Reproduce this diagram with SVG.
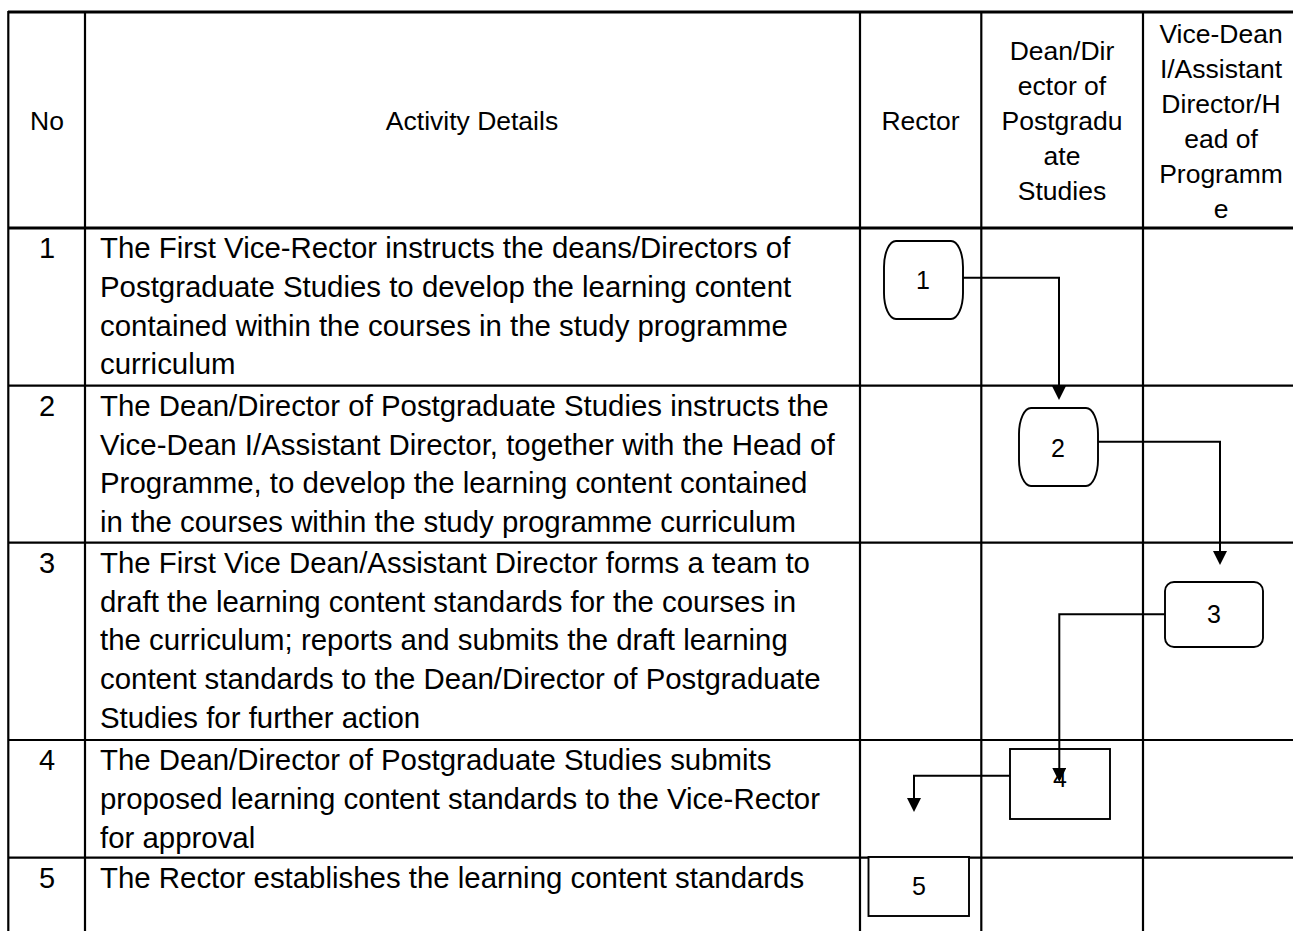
<svg xmlns="http://www.w3.org/2000/svg" width="1293" height="931" viewBox="0 0 1293 931">
<style>
.grid{stroke:#000;stroke-width:2.2;fill:none}
.thick{stroke:#000;stroke-width:2.8;fill:none}
.hd{font-family:"Liberation Sans",Arial,sans-serif;font-size:26.5px;fill:#000;text-anchor:middle}
.bd{font-family:"Liberation Sans",Arial,sans-serif;font-size:29.4px;fill:#000}
.num{font-family:"Liberation Sans",Arial,sans-serif;font-size:29px;fill:#000;text-anchor:middle}
.shape{fill:#fff;stroke:#000;stroke-width:1.9}
.lbl{font-family:"Liberation Sans",Arial,sans-serif;font-size:25px;fill:#000;text-anchor:middle}
.conn{fill:none;stroke:#000;stroke-width:2}
</style>
<defs>
<marker id="arr" viewBox="0 0 14 14" refX="6" refY="7" markerWidth="14" markerHeight="14" markerUnits="userSpaceOnUse" orient="auto">
<path d="M0,0 L14,7 L0,14 Z" fill="#000"/>
</marker>
</defs>
<rect width="1293" height="931" fill="#fff"/>
<g id="table">
<line class="thick" x1="8" y1="12" x2="1300" y2="12"/>
<line class="thick" x1="8" y1="228" x2="1300" y2="228"/>
<line class="grid" x1="8" y1="385.7" x2="1300" y2="385.7"/>
<line class="grid" x1="8" y1="542.7" x2="1300" y2="542.7"/>
<line class="grid" x1="8" y1="740" x2="1300" y2="740"/>
<line class="grid" x1="8" y1="857.7" x2="1300" y2="857.7"/>
<line class="grid" x1="8.3" y1="11" x2="8.3" y2="940"/>
<line class="grid" x1="85" y1="11" x2="85" y2="940"/>
<line class="grid" x1="860" y1="11" x2="860" y2="940"/>
<line class="grid" x1="981.3" y1="11" x2="981.3" y2="940"/>
<line class="grid" x1="1143" y1="11" x2="1143" y2="940"/>
</g>
<g id="header">
<text class="hd" x="47" y="130">No</text>
<text class="hd" x="472" y="130">Activity Details</text>
<text class="hd" x="920.5" y="130">Rector</text>
<text class="hd" x="1062"><tspan x="1062" y="60">Dean/Dir</tspan><tspan x="1062" y="95">ector of</tspan><tspan x="1062" y="130">Postgradu</tspan><tspan x="1062" y="165">ate</tspan><tspan x="1062" y="200">Studies</tspan></text>
<text class="hd" x="1221"><tspan x="1221" y="42.5">Vice-Dean</tspan><tspan x="1221" y="77.5">I/Assistant</tspan><tspan x="1221" y="112.5">Director/H</tspan><tspan x="1221" y="147.5">ead of</tspan><tspan x="1221" y="182.5">Programm</tspan><tspan x="1221" y="217.5">e</tspan></text>
</g>
<g id="rows">
<text class="num" x="47" y="258">1</text>
<text class="bd"><tspan x="100" y="258">The First Vice-Rector instructs the deans/Directors of</tspan><tspan x="100" y="296.8">Postgraduate Studies to develop the learning content</tspan><tspan x="100" y="335.6">contained within the courses in the study programme</tspan><tspan x="100" y="374.4">curriculum</tspan></text>
<text class="num" x="47" y="415.7">2</text>
<text class="bd"><tspan x="100" y="415.7">The Dean/Director of Postgraduate Studies instructs the</tspan><tspan x="100" y="454.5">Vice-Dean I/Assistant Director, together with the Head of</tspan><tspan x="100" y="493.3">Programme, to develop the learning content contained</tspan><tspan x="100" y="532.1">in the courses within the study programme curriculum</tspan></text>
<text class="num" x="47" y="572.7">3</text>
<text class="bd"><tspan x="100" y="572.7">The First Vice Dean/Assistant Director forms a team to</tspan><tspan x="100" y="611.5">draft the learning content standards for the courses in</tspan><tspan x="100" y="650.3">the curriculum; reports and submits the draft learning</tspan><tspan x="100" y="689.1">content standards to the Dean/Director of Postgraduate</tspan><tspan x="100" y="727.9">Studies for further action</tspan></text>
<text class="num" x="47" y="770">4</text>
<text class="bd"><tspan x="100" y="770">The Dean/Director of Postgraduate Studies submits</tspan><tspan x="100" y="808.8">proposed learning content standards to the Vice-Rector</tspan><tspan x="100" y="847.6">for approval</tspan></text>
<text class="num" x="47" y="887.7">5</text>
<text class="bd"><tspan x="100" y="887.7">The Rector establishes the learning content standards</tspan></text>
</g>
<g id="node1">
<rect class="shape" x="884" y="241" width="79" height="78" rx="12" ry="26"/>
<text class="lbl" x="923" y="289">1</text>
</g>
<g id="node2">
<rect class="shape" x="1019" y="408" width="79" height="78" rx="12" ry="26"/>
<text class="lbl" x="1058" y="457">2</text>
</g>
<g id="node3">
<rect class="shape" x="1165" y="582" width="98" height="65" rx="9" ry="9"/>
<text class="lbl" x="1214" y="622.5">3</text>
</g>
<g id="node4">
<rect class="shape" x="1010" y="749" width="100" height="70"/>
<text class="lbl" x="1060" y="787">4</text>
</g>
<g id="node5">
<rect class="shape" x="868.5" y="857" width="100.5" height="59"/>
<text class="lbl" x="919" y="895">5</text>
</g>
<g id="connectors">
<path class="conn" d="M963,277.7 H1059 V392" marker-end="url(#arr)"/>
<path class="conn" d="M1098,441.7 H1220 V557" marker-end="url(#arr)"/>
<path class="conn" d="M1165,614.3 H1059.3 V774" marker-end="url(#arr)"/>
<path class="conn" d="M1010,775.7 H914 V804" marker-end="url(#arr)"/>
</g>
</svg>
